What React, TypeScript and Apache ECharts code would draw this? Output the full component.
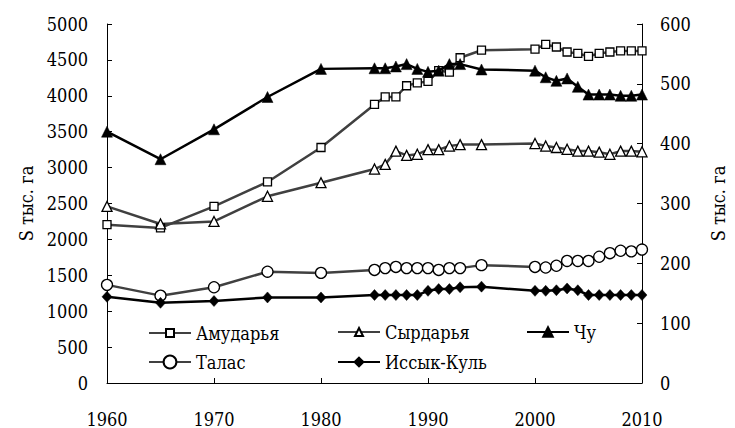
import React, { useEffect, useRef } from "react";
import * as echarts from "echarts";

const years = [1960, 1965, 1970, 1975, 1980, 1985, 1986, 1987, 1988, 1989, 1990, 1991, 1992, 1993, 1995, 2000, 2001, 2002, 2003, 2004, 2005, 2006, 2007, 2008, 2009, 2010];
const amudarya = [2205, 2160, 2460, 2800, 3280, 3880, 3985, 3985, 4140, 4180, 4200, 4350, 4330, 4530, 4635, 4650, 4715, 4680, 4610, 4590, 4550, 4590, 4610, 4625, 4625, 4625];
const syrdarya = [2460, 2215, 2250, 2600, 2790, 2980, 3045, 3230, 3170, 3185, 3250, 3250, 3300, 3320, 3320, 3335, 3300, 3280, 3255, 3230, 3230, 3215, 3185, 3230, 3230, 3220];
const chu = [420, 374, 424, 478, 525, 526, 526, 529, 533, 525, 520, 522, 533, 533, 524, 522, 511, 505, 509, 495, 482, 482, 482, 480, 480, 482];
const talas = [164, 146, 160, 186, 184, 189, 192, 194, 192, 192, 192, 189, 192, 192, 197, 194, 193, 196, 204, 204, 204, 211, 217, 221, 220, 223];
const issykKul = [144, 134, 137, 143, 143, 147, 147, 147, 147, 147, 154, 157, 157, 160, 161, 154, 154, 155, 158, 155, 147, 147, 147, 147, 147, 147];

const seriesNames = ["Амударья", "Сырдарья", "Чу", "Талас", "Иссык-Куль"];
const axisTitle = "S тыс. га";

const FONT = "'DejaVu Serif Condensed', 'DejaVu Serif', serif";

function pairs(vals: number[]) {
  return years.map((y, i) => [y, vals[i]]);
}

export default function App() {
  const ref = useRef<HTMLDivElement>(null);
  useEffect(() => {
    if (!ref.current) return;
    const chart = echarts.init(ref.current, null, { renderer: "svg" });
    const txt = { fontFamily: FONT, fontSize: 18, color: "#000" };
    const plain = (v: number) => String(v);
    const axisCommon = {
      axisLine: { show: true, onZero: false, lineStyle: { color: "#000", width: 1 } },
      axisTick: { show: true, inside: true, length: 5, lineStyle: { color: "#000", width: 1 } },
      splitLine: { show: false },
    };
    const grayLine = "#404040";
    const mkLegend = (name: string, left: number, top: number, itemHeight: number) => ({
      data: [name],
      left,
      top,
      orient: "horizontal",
      itemWidth: 42,
      itemHeight,
      padding: 0,
      itemGap: 0,
      selectedMode: false,
      textStyle: { ...txt, lineHeight: 20 },
    });
    chart.setOption({
      animation: false,
      backgroundColor: "#fff",
      textStyle: { fontFamily: FONT },
      grid: { left: 107, right: 81, top: 24, bottom: 45, containLabel: false },
      legend: [
        mkLegend(seriesNames[0], 148, 323, 10),
        mkLegend(seriesNames[1], 337, 322, 10),
        mkLegend(seriesNames[2], 526, 322, 12),
        mkLegend(seriesNames[3], 148, 352, 16),
        mkLegend(seriesNames[4], 337, 352, 11),
      ],
      xAxis: {
        type: "value",
        min: 1960,
        max: 2010,
        interval: 10,
        ...axisCommon,
        axisLabel: { ...txt, margin: 27, formatter: plain },
      },
      yAxis: [
        {
          type: "value",
          min: 0,
          max: 5000,
          interval: 500,
          position: "left",
          ...axisCommon,
          axisLabel: { ...txt, margin: 19, formatter: plain },
          name: axisTitle,
          nameLocation: "middle",
          nameRotate: 90,
          nameGap: 72,
          nameTextStyle: { ...txt },
        },
        {
          type: "value",
          min: 0,
          max: 600,
          interval: 100,
          position: "right",
          ...axisCommon,
          axisLabel: { ...txt, margin: 18, formatter: plain },
          name: axisTitle,
          nameLocation: "middle",
          nameRotate: 90,
          nameGap: 67,
          nameTextStyle: { ...txt },
        },
      ],
      series: [
        {
          name: seriesNames[0],
          type: "line",
          yAxisIndex: 0,
          data: pairs(amudarya),
          symbol: "rect",
          symbolSize: 8,
          showAllSymbol: true,
          lineStyle: { color: grayLine, width: 2.5 },
          itemStyle: { color: "#fff", borderColor: "#000", borderWidth: 1.3 },
          z: 2,
        },
        {
          name: seriesNames[1],
          type: "line",
          yAxisIndex: 0,
          data: pairs(syrdarya),
          symbol: "triangle",
          symbolSize: 10,
          showAllSymbol: true,
          lineStyle: { color: grayLine, width: 2.5 },
          itemStyle: { color: "#fff", borderColor: "#000", borderWidth: 1.3 },
          z: 2,
        },
        {
          name: seriesNames[2],
          type: "line",
          yAxisIndex: 1,
          data: pairs(chu),
          symbol: "triangle",
          symbolSize: 11,
          showAllSymbol: true,
          lineStyle: { color: "#000", width: 2.5 },
          itemStyle: { color: "#000", borderColor: "#000", borderWidth: 0.5 },
          z: 3,
        },
        {
          name: seriesNames[3],
          type: "line",
          yAxisIndex: 1,
          data: pairs(talas),
          symbol: "circle",
          symbolSize: 11,
          showAllSymbol: true,
          lineStyle: { color: grayLine, width: 2.5 },
          itemStyle: { color: "#fff", borderColor: "#000", borderWidth: 1.3 },
          z: 2,
        },
        {
          name: seriesNames[4],
          type: "line",
          yAxisIndex: 1,
          data: pairs(issykKul),
          symbol: "diamond",
          symbolSize: [10, 11],
          showAllSymbol: true,
          lineStyle: { color: "#000", width: 2.5 },
          itemStyle: { color: "#000", borderColor: "#000", borderWidth: 0.5 },
          z: 3,
        },
      ],
    });
    return () => chart.dispose();
  }, []);
  return (
    <div
      ref={ref}
      style={{ position: "fixed", left: 0, top: 0, width: 735, height: 428, background: "#fff" }}
    />
  );
}
